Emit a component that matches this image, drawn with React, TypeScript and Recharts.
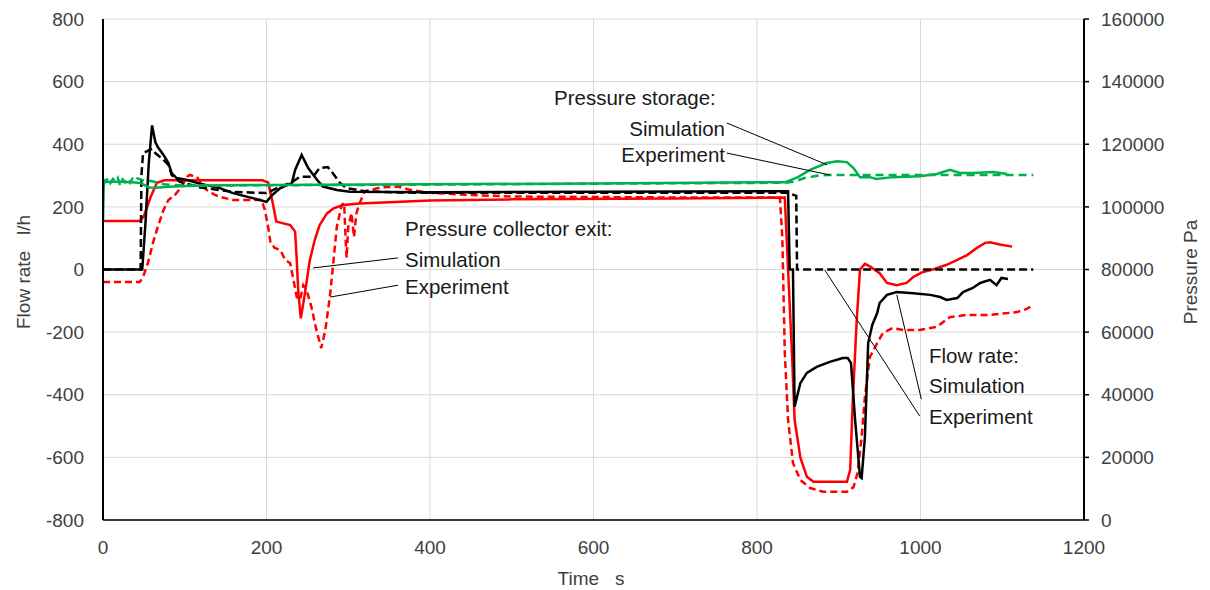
import React from "react";
import { LineChart, Line, XAxis, YAxis, CartesianGrid, ReferenceLine } from "recharts";

// ─── Data (time in s; flow in l/h; pressure in Pa) ───────────────────────────

const flowSimT = [0, 48, 52, 56, 60, 64, 67, 74, 80, 84, 90, 103, 119, 143, 159, 192, 200, 207, 217, 231, 235, 243, 251, 262, 269, 286, 302, 400, 600, 838, 840, 844, 846, 853, 861, 873, 889, 905, 911, 915, 920, 926, 928, 932, 936, 941, 947, 950, 959, 971, 991, 1012, 1024, 1032, 1045, 1052, 1064, 1073, 1085, 1093, 1099, 1107];
const flowSimV = [0, 0, 150, 340, 460, 407, 391, 366, 340, 308, 292, 286, 274, 260, 244, 222, 216, 238, 260, 276, 318, 366, 324, 286, 265, 254, 248, 247, 248, 250, 0, 0, -438, -363, -330, -311, -295, -283, -283, -299, -480, -662, -666, -535, -235, -177, -139, -107, -81, -72, -76, -81, -88, -97, -91, -72, -59, -43, -33, -50, -27, -30];

const flowExpT = [0, 46, 47, 49, 54, 60, 64, 74, 80, 84, 94, 119, 159, 200, 217, 229, 241, 257, 265, 275, 281, 290, 298, 320, 360, 400, 600, 836, 843, 848, 849, 1138];
const flowExpV = [0, 0, 300, 372, 378, 385, 372, 350, 334, 302, 280, 262, 248, 244, 265, 276, 296, 296, 324, 327, 308, 276, 260, 250, 246, 245, 245, 245, 240, 235, 0, 0];

const collSimT = [0, 45, 50, 58, 66, 75, 195, 202, 207, 212, 229, 235, 237, 239, 242, 247, 253, 259, 265, 274, 282, 294, 314, 350, 400, 500, 700, 834, 838, 843, 846, 853, 861, 869, 910, 914, 917, 922, 926, 932, 938, 950, 959, 971, 983, 991, 1003, 1015, 1032, 1045, 1057, 1069, 1079, 1085, 1097, 1112];
const collSimP = [95500, 95500, 97000, 103000, 107700, 108500, 108500, 107800, 102000, 95300, 94200, 92100, 83000, 72400, 64400, 72400, 83000, 89400, 94200, 97900, 99500, 100600, 101100, 101500, 102000, 102400, 102700, 103000, 80000, 52000, 32000, 20000, 13800, 12200, 12200, 16000, 37300, 63900, 80000, 81800, 81000, 78800, 75700, 75000, 75700, 77600, 79200, 80000, 81500, 83100, 84600, 86900, 88500, 88700, 88000, 87300];

const collExpT = [0, 45, 49, 55, 61, 67, 74, 80, 88, 96, 103, 106, 115, 121, 127, 137, 143, 159, 194, 198, 202, 205, 210, 217, 223, 229, 233, 237, 241, 245, 249, 255, 261, 267, 272, 278, 282, 286, 292, 295, 297, 298, 300, 304, 307, 310, 314, 320, 340, 360, 375, 400, 450, 500, 700, 828, 831, 834, 838, 844, 853, 865, 881, 910, 918, 923, 928, 932, 938, 947, 954, 966, 979, 999, 1020, 1036, 1057, 1085, 1118, 1130, 1136];
const collExpP = [76000, 76000, 77600, 82100, 88400, 93600, 99000, 102200, 103800, 106400, 109600, 110200, 109600, 107000, 105400, 103800, 103200, 102200, 102200, 99000, 93600, 88400, 86900, 86200, 83000, 82000, 76600, 71200, 70300, 75000, 73500, 68000, 60700, 54900, 60700, 72400, 83000, 93600, 100600, 101200, 88400, 83700, 93600, 98000, 90400, 98000, 101200, 105000, 106200, 106500, 105500, 104500, 103800, 103300, 103000, 103000, 90000, 53300, 32000, 18200, 12800, 10200, 9000, 9000, 10500, 15000, 26500, 39300, 52000, 56500, 59700, 61300, 60700, 60700, 61700, 64800, 65500, 65500, 66400, 67400, 68300];

const storSimT = [0, 1, 20, 40, 47, 52, 57, 65, 80, 120, 200, 400, 600, 835, 850, 865, 885, 898, 910, 918, 926, 938, 946, 966, 999, 1020, 1036, 1048, 1064, 1089, 1106];
const storSimP = [95000, 108000, 108000, 107800, 107500, 106800, 106200, 106100, 106400, 106800, 107000, 107200, 107500, 107900, 109500, 111800, 114000, 114600, 114300, 112400, 109500, 109500, 108900, 109500, 109800, 110500, 111800, 110800, 110800, 111100, 110500];

const storExpT = [0, 3, 6, 9, 12, 15, 18, 21, 24, 27, 30, 33, 36, 39, 42, 48, 60, 75, 100, 200, 400, 600, 835, 845, 858, 875, 885, 1138];
const storExpP = [109000, 108000, 109200, 107600, 108900, 108200, 109300, 106800, 108800, 107900, 109100, 107700, 109000, 108300, 109100, 108600, 108200, 107200, 106800, 106900, 107100, 107400, 107700, 108000, 109200, 110000, 110200, 110200];

const timeTicks = [0, 200, 400, 600, 800, 1000, 1200];
const flowTicks = [-800, -600, -400, -200, 0, 200, 400, 600, 800];
const pressureTicks = [0, 20000, 40000, 60000, 80000, 100000, 120000, 140000, 160000];

const zip = (t: number[], v: number[]) => t.map((x, i) => ({ t: x, v: v[i] }));

const flowSim = zip(flowSimT, flowSimV);
const flowExp = zip(flowExpT, flowExpV);
const collSim = zip(collSimT, collSimP);
const collExp = zip(collExpT, collExpP);
const storSim = zip(storSimT, storSimP);
const storExp = zip(storExpT, storExpP);

// ─── Style ───────────────────────────────────────────────────────────────────

const FONT = "'Liberation Sans', Arial, sans-serif";
const TICK = { fill: "#404040", fontSize: 19, fontFamily: FONT };
const RED = "#ff0000";
const GREEN = "#00b050";
const NB = "\u00a0";

// leader lines in data coordinates (time, flow-rate scale)
const leaders = [
  [{ x: 763, y: 468 }, { x: 886, y: 334 }],
  [{ x: 763, y: 372 }, { x: 889, y: 302 }],
  [{ x: 257, y: 5 }, { x: 361, y: 37 }],
  [{ x: 278, y: -88 }, { x: 361, y: -50 }],
  [{ x: 971, y: -81 }, { x: 1001, y: -414 }],
  [{ x: 883, y: -2 }, { x: 999, y: -468 }],
];

export default function App() {
  const txt = { fontFamily: FONT, fontSize: 20.5, fill: "#1a1a1a" } as const;
  return (
    <div style={{ position: "absolute", left: 0, top: 0, width: 1210, height: 590, background: "#fff" }}>
      <LineChart width={1210} height={590} margin={{ top: 19, right: 0, bottom: 30, left: 0 }}>
        <CartesianGrid yAxisId="left" stroke="#d9d9d9" strokeWidth={1} />
        <XAxis
          type="number"
          dataKey="t"
          domain={[0, 1200]}
          ticks={timeTicks}
          height={40}
          tick={TICK}
          tickLine={false}
          tickSize={0}
          tickMargin={21}
          axisLine={{ stroke: "#000", strokeWidth: 1.5 }}
          allowDataOverflow
        />
        <YAxis
          yAxisId="left"
          type="number"
          domain={[-800, 800]}
          ticks={flowTicks}
          width={103}
          tick={TICK}
          tickLine={false}
          tickSize={0}
          tickMargin={19}
          axisLine={{ stroke: "#000", strokeWidth: 2 }}
          allowDataOverflow
        />
        <YAxis
          yAxisId="right"
          orientation="right"
          type="number"
          domain={[0, 160000]}
          ticks={pressureTicks}
          width={126}
          tick={TICK}
          tickLine={{ stroke: "#000", strokeWidth: 1.5 }}
          tickSize={5}
          tickMargin={12}
          axisLine={{ stroke: "#000", strokeWidth: 2 }}
          allowDataOverflow
        />

        <Line yAxisId="right" data={collExp} dataKey="v" type="linear" stroke={RED} strokeWidth={2.5} strokeDasharray="7 4" dot={false} isAnimationActive={false} />
        <Line yAxisId="right" data={collSim} dataKey="v" type="linear" stroke={RED} strokeWidth={2.5} dot={false} isAnimationActive={false} />
        <Line yAxisId="left" data={flowExp} dataKey="v" type="linear" stroke="#000" strokeWidth={2.5} strokeDasharray="8 4" dot={false} isAnimationActive={false} />
        <Line yAxisId="left" data={flowSim} dataKey="v" type="linear" stroke="#000" strokeWidth={2.5} dot={false} isAnimationActive={false} />
        <Line yAxisId="right" data={storExp} dataKey="v" type="linear" stroke={GREEN} strokeWidth={2.5} strokeDasharray="8 5" dot={false} isAnimationActive={false} />
        <Line yAxisId="right" data={storSim} dataKey="v" type="linear" stroke={GREEN} strokeWidth={2.5} dot={false} isAnimationActive={false} />

        {leaders.map((seg, i) => (
          <ReferenceLine key={i} yAxisId="left" segment={seg} stroke="#000" strokeWidth={1} />
        ))}
      </LineChart>

      <svg width={1210} height={590} style={{ position: "absolute", left: 0, top: 0, pointerEvents: "none" }}>
        <text {...txt} x={554} y={105}>Pressure storage:</text>
        <text {...txt} x={725} y={136} textAnchor="end">Simulation</text>
        <text {...txt} x={725} y={162} textAnchor="end">Experiment</text>

        <text {...txt} x={405} y={236}>Pressure collector exit:</text>
        <text {...txt} x={405} y={267}>Simulation</text>
        <text {...txt} x={405} y={294}>Experiment</text>

        <text {...txt} x={929} y={363}>Flow rate:</text>
        <text {...txt} x={929} y={393}>Simulation</text>
        <text {...txt} x={929} y={424}>Experiment</text>

        <text fontFamily={FONT} fontSize={19} fill="#404040" x={591} y={585} textAnchor="middle">
          {`Time${NB}${NB}${NB}s`}
        </text>
        <text fontFamily={FONT} fontSize={19} fill="#404040" textAnchor="middle" transform="translate(30,272) rotate(-90)">
          {`Flow rate${NB}${NB}${NB}l/h`}
        </text>
        <text fontFamily={FONT} fontSize={19} fill="#404040" textAnchor="middle" transform="translate(1197,272) rotate(-90)">
          Pressure Pa
        </text>
      </svg>
    </div>
  );
}
